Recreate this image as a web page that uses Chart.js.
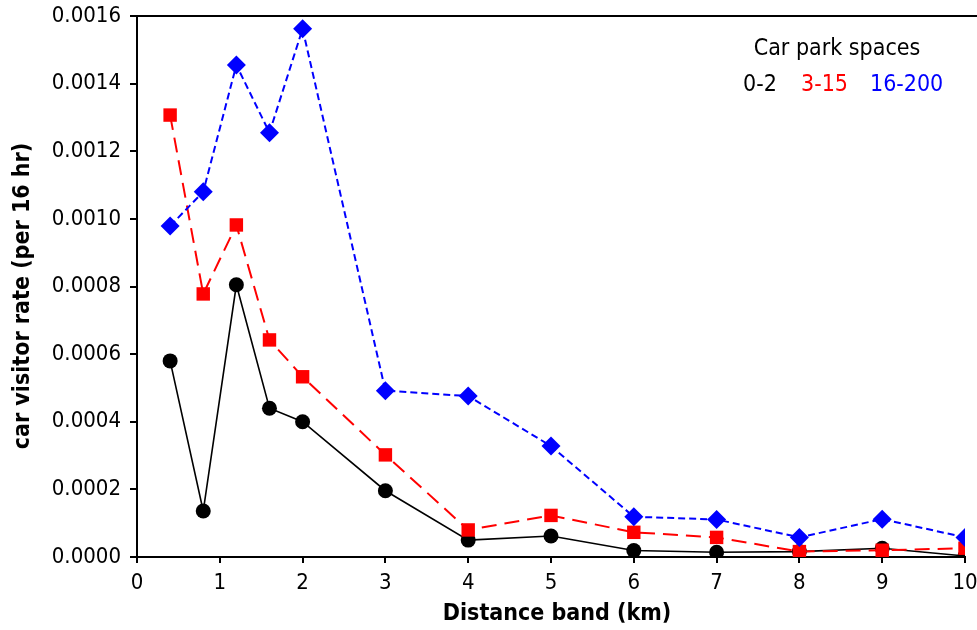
<!DOCTYPE html>
<html>
<head>
<meta charset="utf-8">
<script src="https://cdn.jsdelivr.net/npm/chart.js@4.4.1/dist/chart.umd.min.js"></script>
<style>
  html, body { margin: 0; padding: 0; background: #fff; }
  #wrap { width: 977px; height: 630px; position: relative; }
</style>
</head>
<body>
<div id="wrap"><canvas id="c" width="977" height="630"></canvas></div>
<script>
// ---- data ----
const distanceBands = [0.4, 0.8, 1.2, 1.6, 2, 3, 4, 5, 6, 7, 8, 9, 10];
const rate_0_2    = [0.00058, 0.000136, 0.000805, 0.00044, 0.0004, 0.000196, 0.00005, 0.000062, 0.000019, 0.000014, 0.000016, 0.000026, 0.000003];
const rate_3_15   = [0.001307, 0.000778, 0.000982, 0.000642, 0.000533, 0.000302, 0.00008, 0.000123, 0.000073, 0.000058, 0.000016, 0.00002, 0.000026];
const rate_16_200 = [0.000979, 0.00108, 0.001455, 0.001255, 0.001562, 0.000492, 0.000476, 0.000328, 0.000119, 0.000111, 0.000058, 0.000112, 0.000058];
const seriesLabels = ['0-2', '3-15', '16-200'];
const legendTitle = 'Car park spaces';
const xTitle = 'Distance band (km)';
const yTitle = 'car visitor rate (per 16 hr)';
const xTicks = [0, 1, 2, 3, 4, 5, 6, 7, 8, 9, 10];
const yTicks = [0, 0.0002, 0.0004, 0.0006, 0.0008, 0.0010, 0.0012, 0.0014, 0.0016];

const FONT = "'DejaVu Sans Condensed', 'DejaVu Sans', sans-serif";

function pts(vals) { return distanceBands.map((x, i) => ({ x: x, y: vals[i] })); }

const decor = {
  id: 'decor',
  afterDraw(chart) {
    const ctx = chart.ctx, a = chart.chartArea;
    ctx.save();
    // top border
    ctx.strokeStyle = '#000';
    ctx.lineWidth = 2;
    ctx.beginPath();
    ctx.moveTo(a.left, a.top);
    ctx.lineTo(chart.width, a.top);
    ctx.stroke();
    // axis titles
    ctx.fillStyle = '#000';
    ctx.font = "bold 23px " + FONT;
    ctx.textAlign = 'center';
    ctx.textBaseline = 'middle';
    ctx.fillText(xTitle, 557, 614);
    ctx.translate(23, 296);
    ctx.rotate(-Math.PI / 2);
    ctx.fillText(yTitle, 0, 0);
    ctx.restore();
    // legend
    ctx.save();
    ctx.font = "23px " + FONT;
    ctx.textBaseline = 'alphabetic';
    ctx.textAlign = 'center';
    ctx.fillStyle = '#000';
    ctx.fillText(legendTitle, 837, 55);
    ctx.textAlign = 'left';
    const cols = ['#000000', '#ff0000', '#0000ff'];
    const xs = [743, 801, 870];
    seriesLabels.forEach((t, i) => { ctx.fillStyle = cols[i]; ctx.fillText(t, xs[i], 91); });
    ctx.restore();
  }
};

new Chart(document.getElementById('c'), {
  type: 'line',
  data: {
    datasets: [
      { label: seriesLabels[0], data: pts(rate_0_2), borderColor: '#000', backgroundColor: '#000',
        borderWidth: 1.6, pointStyle: 'circle', pointRadius: 7.5, pointBorderWidth: 0, order: 3, tension: 0 },
      { label: seriesLabels[1], data: pts(rate_3_15), borderColor: '#ff0000', backgroundColor: '#ff0000',
        borderWidth: 2, borderDash: [15, 8], pointStyle: 'rect', pointRadius: 9.5, pointBorderWidth: 0, order: 2, tension: 0 },
      { label: seriesLabels[2], data: pts(rate_16_200), borderColor: '#0000ff', backgroundColor: '#0000ff',
        borderWidth: 2, borderDash: [7, 4], pointStyle: 'rectRot', pointRadius: 9.5, pointBorderWidth: 0, order: 1, tension: 0 }
    ]
  },
  options: {
    responsive: false,
    animation: false,
    devicePixelRatio: 1,
    layout: { padding: { top: 16, right: 12, left: 0, bottom: 0 } },
    plugins: { legend: { display: false }, tooltip: { enabled: false } },
    scales: {
      x: {
        type: 'linear', min: 0, max: 10,
        afterBuildTicks(s) { s.ticks = xTicks.map(v => ({ value: v })); },
        afterFit(s) { s.height = 73; s.paddingLeft = 0; s.paddingRight = 0; },
        ticks: { color: '#000', font: { family: FONT, size: 22 }, padding: 7, maxRotation: 0, autoSkip: false },
        grid: { drawOnChartArea: false, drawTicks: true, tickLength: 6, color: '#000', lineWidth: 2 },
        border: { color: '#000', width: 2 }
      },
      y: {
        type: 'linear', min: 0, max: 0.0016,
        afterBuildTicks(s) { s.ticks = yTicks.map(v => ({ value: v })); },
        afterFit(s) { s.width = 137; s.paddingTop = 0; s.paddingBottom = 0; },
        ticks: { color: '#000', font: { family: FONT, size: 22 }, padding: 9, autoSkip: false,
                 callback: v => Number(v).toFixed(4) },
        grid: { drawOnChartArea: false, drawTicks: true, tickLength: 7, color: '#000', lineWidth: 2 },
        border: { color: '#000', width: 2 }
      }
    }
  },
  plugins: [decor]
});
</script>
</body>
</html>
